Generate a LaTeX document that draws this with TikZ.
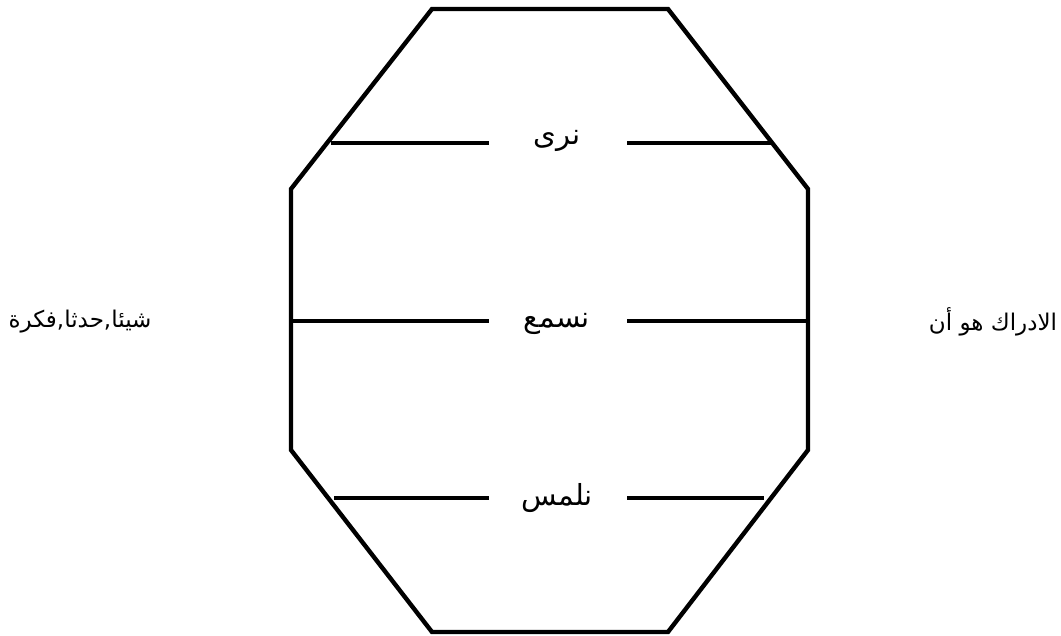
\documentclass[tikz,border=0pt]{standalone}
\usepackage{fontspec}
\newfontfamily\arabicfont[Script=Arabic]{DejaVu Sans}
\TeXXeTstate=1
\begin{document}
\begin{tikzpicture}[x=1pt,y=-1pt,
  edge/.style={line width=4.4pt,line join=miter},
  lbl/.style={font=\arabicfont\fontsize{29}{32}\selectfont,inner sep=0pt},
  side/.style={font=\arabicfont\fontsize{23}{26}\selectfont,inner sep=0pt}]
\useasboundingbox (0,0) rectangle (1061,636);
% octagon corners
\coordinate (t1) at (432,9);
\coordinate (t2) at (668,9);
\coordinate (r1) at (808,189);
\coordinate (r2) at (808,450);
\coordinate (b2) at (668,632);
\coordinate (b1) at (432,632);
\coordinate (l2) at (291,450);
\coordinate (l1) at (291,189);
\draw[edge] (t1) -- (t2) -- (r1) -- (r2) -- (b2) -- (b1) -- (l2) -- (l1) -- cycle;
% labels inside
\node[lbl] (see) at (557,141) {\beginR نرى\endR};
\node[lbl] (hear) at (557,324) {\beginR نسمع\endR};
\node[lbl] (touch) at (557,498) {\beginR نلمس\endR};
% line end points
\coordinate (a1) at (331,143);
\coordinate (a2) at (489,143);
\coordinate (a3) at (627,143);
\coordinate (a4) at (771,143);
\coordinate (m1) at (291,321);
\coordinate (m2) at (489,321);
\coordinate (m3) at (627,321);
\coordinate (m4) at (808,321);
\coordinate (c1) at (334,498);
\coordinate (c2) at (489,498);
\coordinate (c3) at (627,498);
\coordinate (c4) at (764,498);
\draw[edge] (a1) -- (a2);
\draw[edge] (a3) -- (a4);
\draw[edge] (m1) -- (m2);
\draw[edge] (m3) -- (m4);
\draw[edge] (c1) -- (c2);
\draw[edge] (c3) -- (c4);
% outside labels
\node[side] (obj) at (80,322) {\beginR شيئا,حدثا,فكرة\endR};
\node[side] (perc) at (993,322) {\beginR الادراك هو أن\endR};
\end{tikzpicture}
\end{document}
